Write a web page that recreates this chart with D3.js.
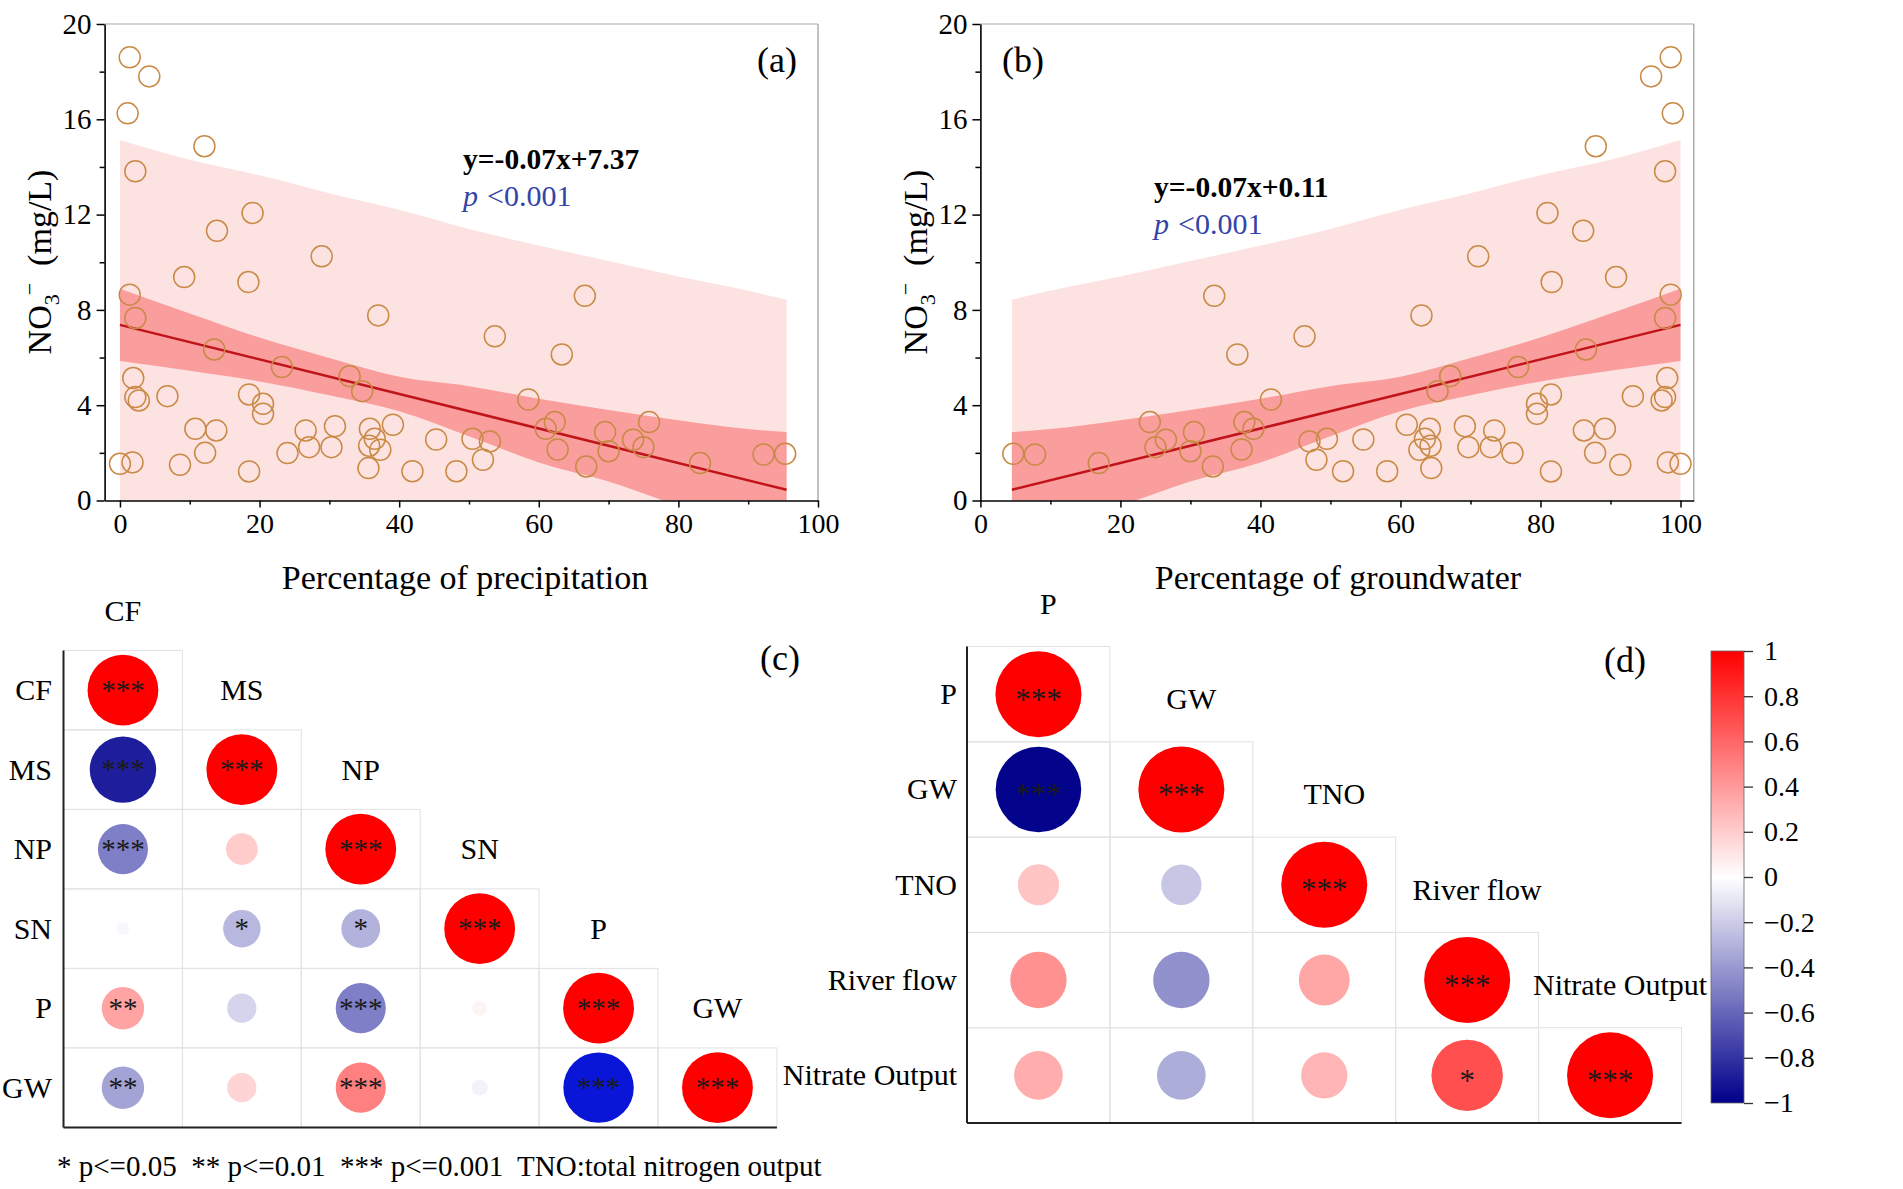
<!DOCTYPE html>
<html><head><meta charset="utf-8">
<script src="https://cdn.jsdelivr.net/npm/d3@7"></script>
<style>
body{margin:0;background:#fff}
svg{display:block}
text{font-family:"Liberation Serif","Times New Roman",serif}
</style>
</head><body>
<svg id="chart" width="1903" height="1189"></svg>
<script>
// ---------------- DATA ----------------
// Panel (a): percentage of precipitation vs NO3-
const precipPct = [1.4,4.2,1.1,12.1,2.2,19.0,13.9,28.9,9.2,18.4,1.4,37.0,2.2,13.5,23.2,32.9,34.7,1.9,2.2,2.7,6.8,18.5,20.5,20.5,10.8,13.8,12.2,0.0,1.8,8.6,18.5,24.0,26.6,27.1,30.3,30.8,35.8,36.5,35.7,37.3,35.6,39.1,41.9,45.3,48.2,66.6,53.7,63.3,58.5,61.0,62.3,62.7,69.5,70.0,66.8,73.5,75.0,75.8,83.1,92.2,95.3,50.5,53.0,52.0];
const precipNO3 = [18.6,17.8,16.25,14.87,13.82,12.07,11.32,10.25,9.38,9.17,8.64,7.77,7.66,6.34,5.6,5.22,4.59,5.14,4.34,4.2,4.38,4.45,4.06,3.64,3.01,2.94,2.0,1.54,1.6,1.5,1.22,1.99,2.94,2.24,2.24,3.12,3.01,2.59,2.3,2.13,1.36,3.18,1.23,2.56,1.23,8.59,6.89,6.13,4.24,3.01,3.29,2.14,2.87,2.07,1.43,2.55,2.24,3.29,1.57,1.93,1.96,2.59,2.48,1.71];
const fitAX = [0, 95.5];
const fitAY = [7.37, 0.45];
const bandAX     = [0, 10, 20, 30, 40, 50, 60, 70, 80, 90, 95.5];
const confAUpper = [8.89, 7.85, 6.84, 5.98, 5.19, 4.80, 4.27, 3.80, 3.37, 3.00, 2.87];
const confALower = [5.85, 5.45, 5.00, 4.42, 3.75, 2.70, 1.60, 0.80, -0.23, -1.30, -1.97];
const predAUpper = [15.13, 14.30, 13.65, 12.90, 12.20, 11.40, 10.70, 10.05, 9.40, 8.80, 8.43];
const predALower = [-0.39, -1.1, -1.8, -2.6, -3.4, -4.1, -4.9, -5.6, -6.3, -7.0, -7.5];

// Panel (b): percentage of groundwater vs NO3-
const gwPct = [98.6,95.8,98.9,87.9,97.8,81.0,86.1,71.1,90.8,81.6,98.6,63.0,97.8,86.5,76.8,67.1,65.3,98.1,97.8,97.3,93.2,81.5,79.5,79.5,89.2,86.2,87.8,100.0,98.2,91.4,81.5,76.0,73.4,72.9,69.7,69.2,64.2,63.5,64.3,62.7,64.4,60.9,58.1,54.7,51.8,33.4,46.3,36.7,41.5,39.0,37.7,37.3,30.5,30.0,33.2,26.5,25.0,24.2,16.9,7.8,4.7,49.5,47.0,48.0];
const gwNO3 = [18.6,17.8,16.25,14.87,13.82,12.07,11.32,10.25,9.38,9.17,8.64,7.77,7.66,6.34,5.6,5.22,4.59,5.14,4.34,4.2,4.38,4.45,4.06,3.64,3.01,2.94,2.0,1.54,1.6,1.5,1.22,1.99,2.94,2.24,2.24,3.12,3.01,2.59,2.3,2.13,1.36,3.18,1.23,2.56,1.23,8.59,6.89,6.13,4.24,3.01,3.29,2.14,2.87,2.07,1.43,2.55,2.24,3.29,1.57,1.93,1.96,2.59,2.48,1.71];
const fitBX = [4.5, 100];
const fitBY = [0.45, 7.37];
const bandBX     = [4.5, 10, 20, 30, 40, 50, 60, 70, 80, 90, 100];
const confBUpper = [2.87, 3.00, 3.37, 3.80, 4.27, 4.80, 5.19, 5.98, 6.84, 7.85, 8.89];
const confBLower = [-1.97, -1.30, -0.23, 0.80, 1.60, 2.70, 3.75, 4.42, 5.00, 5.45, 5.85];
const predBUpper = [8.43, 8.80, 9.40, 10.05, 10.70, 11.40, 12.20, 12.90, 13.65, 14.30, 15.13];
const predBLower = [-7.5, -7.0, -6.3, -5.6, -4.9, -4.1, -3.4, -2.6, -1.8, -1.1, -0.39];

const xTickValues = [0, 20, 40, 60, 80, 100];
const xMinorTicks = [10, 30, 50, 70, 90];
const yTickValues = [0, 4, 8, 12, 16, 20];
const yMinorTicks = [2, 6, 10, 14, 18];

// Panel (c) correlation matrix
const cLabels = ["CF", "MS", "NP", "SN", "P", "GW"];
const cValues = [
  [1],
  [-0.88, 1],
  [-0.50, 0.20, 1],
  [-0.03, -0.28, -0.30, 1],
  [0.36, -0.17, -0.50, 0.045, 1],
  [-0.36, 0.17, 0.50, -0.05, -0.99, 1]
];
const cStars = [
  ["***"],
  ["***", "***"],
  ["***", "", "***"],
  ["", "*", "*", "***"],
  ["**", "", "***", "", "***"],
  ["**", "", "***", "", "***", "***"]
];

// Panel (d) correlation matrix
const dLabels = ["P", "GW", "TNO", "River flow", "Nitrate Output"];
const dValues = [
  [1],
  [-0.99, 1],
  [0.23, -0.22, 1],
  [0.43, -0.43, 0.35, 1],
  [0.32, -0.32, 0.29, 0.69, 1]
];
const dStars = [
  ["***"],
  ["***", "***"],
  ["", "", "***"],
  ["", "", "", "***"],
  ["", "", "", "*", "***"]
];
const colorbarTicks = [-1, -0.8, -0.6, -0.4, -0.2, 0, 0.2, 0.4, 0.6, 0.8, 1];
const footnote = "* p<=0.05  ** p<=0.01  *** p<=0.001  TNO:total nitrogen output";

// ---------------- DRAWING ----------------
const FONT = '"Liberation Serif","Times New Roman",serif';
const svg = d3.select("#chart");
const defs = svg.append("defs");

function styleAxis(sel, fs) {
  sel.attr("font-family", FONT).attr("font-size", fs);
  sel.selectAll("text").attr("fill", "#000");
  sel.selectAll("line").attr("stroke", "#000").attr("stroke-width", 1.5);
  sel.selectAll(".domain").attr("stroke", "#000").attr("stroke-width", 1.6);
}

function scatterPanel(cfg) {
  const x = d3.scaleLinear().domain(cfg.xDomain).range(cfg.xRange);
  const y = d3.scaleLinear().domain([0, 20]).range([500.5, 24]);
  const g = svg.append("g");
  const clipId = "clip" + cfg.id;
  defs.append("clipPath").attr("id", clipId).append("rect")
    .attr("x", cfg.xRange[0]).attr("y", y(20))
    .attr("width", cfg.xRange[1] - cfg.xRange[0]).attr("height", y(0) - y(20));
  const pg = g.append("g").attr("clip-path", `url(#${clipId})`);
  const idx = d3.range(cfg.bandX.length);
  const area = (lo, hi) => d3.area()
    .x(i => x(cfg.bandX[i])).y0(i => y(lo[i])).y1(i => y(hi[i]))
    .curve(d3.curveMonotoneX);
  pg.append("path").datum(idx).attr("d", area(cfg.predL, cfg.predU)).attr("fill", "#FDE2E2");
  pg.append("path").datum(idx).attr("d", area(cfg.confL, cfg.confU)).attr("fill", "#F99D9D");
  pg.append("path").datum(d3.range(cfg.fitX.length))
    .attr("d", d3.line().x(i => x(cfg.fitX[i])).y(i => y(cfg.fitY[i])))
    .attr("fill", "none").attr("stroke", "#C0141A").attr("stroke-width", 2.5);

  // frame (top, right)
  g.append("line").attr("x1", x(cfg.xDomain[0])).attr("x2", x(cfg.xDomain[1]))
    .attr("y1", y(20)).attr("y2", y(20)).attr("stroke", "#aaa").attr("stroke-width", 1.2);
  g.append("line").attr("x1", x(cfg.xDomain[1])).attr("x2", x(cfg.xDomain[1]))
    .attr("y1", y(20)).attr("y2", y(0)).attr("stroke", "#999").attr("stroke-width", 1.2);

  g.selectAll("circle.pt").data(d3.range(cfg.px.length)).join("circle")
    .attr("class", "pt")
    .attr("cx", i => x(cfg.px[i])).attr("cy", i => y(cfg.py[i]))
    .attr("r", 10.5).attr("fill", "none")
    .attr("stroke", "#C98A46").attr("stroke-width", 1.5);

  // axes
  const xa = g.append("g").attr("transform", `translate(0,${y(0)})`)
    .call(d3.axisBottom(x).tickValues(xTickValues).tickSize(7).tickSizeOuter(0)
      .tickPadding(6).tickFormat(d3.format("d")));
  styleAxis(xa, 28);
  const xm = g.append("g").attr("transform", `translate(0,${y(0)})`)
    .call(d3.axisBottom(x).tickValues(xMinorTicks).tickSize(4).tickFormat(""));
  xm.select(".domain").remove(); styleAxis(xm, 28);
  const ya = g.append("g").attr("transform", `translate(${cfg.xRange[0]},0)`)
    .call(d3.axisLeft(y).tickValues(yTickValues).tickSize(8).tickSizeOuter(0)
      .tickPadding(5).tickFormat(d3.format("d")));
  styleAxis(ya, 29);
  const ym = g.append("g").attr("transform", `translate(${cfg.xRange[0]},0)`)
    .call(d3.axisLeft(y).tickValues(yMinorTicks).tickSize(5).tickFormat(""));
  ym.select(".domain").remove(); styleAxis(ym, 29);

  // titles
  g.append("text").attr("x", cfg.xTitleX).attr("y", 589).attr("text-anchor", "middle")
    .attr("font-size", 34).text(cfg.xTitle);
  const yt = g.append("text").attr("transform", `translate(${cfg.yTitleX},262) rotate(-90)`)
    .attr("text-anchor", "middle").attr("font-size", 34).attr("xml:space", "preserve");
  yt.append("tspan").text("NO");
  yt.append("tspan").attr("font-size", 22).attr("dy", 8).text("3");
  yt.append("tspan").attr("font-size", 22).attr("dy", -22).attr("dx", -1).text("\u2212");
  yt.append("tspan").attr("dy", 14).text("  (mg/L)");

  g.append("text").attr("x", cfg.labelX).attr("y", 72).attr("text-anchor", "middle")
    .attr("font-size", 36).text(cfg.label);

  g.append("text").attr("x", cfg.eqX).attr("y", cfg.eqY).attr("font-size", 29.5)
    .attr("font-weight", "bold").text(cfg.eq);
  const pt = g.append("text").attr("x", cfg.eqX).attr("y", cfg.eqY + 37)
    .attr("font-size", 30).attr("fill", "#3444A6");
  pt.append("tspan").attr("font-style", "italic").text("p");
  pt.append("tspan").attr("dx", 9).text("<0.001");
}

scatterPanel({
  id: "a", xDomain: [-2.2, 100], xRange: [104.6, 818],
  px: precipPct, py: precipNO3, fitX: fitAX, fitY: fitAY,
  bandX: bandAX, confU: confAUpper, confL: confALower, predU: predAUpper, predL: predALower,
  xTitle: "Percentage of precipitation", xTitleX: 465, yTitleX: 51,
  label: "(a)", labelX: 777, eq: "y=-0.07x+7.37", eqX: 463, eqY: 169
});
scatterPanel({
  id: "b", xDomain: [0, 101.9], xRange: [980.4, 1693.8],
  px: gwPct, py: gwNO3, fitX: fitBX, fitY: fitBY,
  bandX: bandBX, confU: confBUpper, confL: confBLower, predU: predBUpper, predL: predBLower,
  xTitle: "Percentage of groundwater", xTitleX: 1338, yTitleX: 927,
  label: "(b)", labelX: 1023, eq: "y=-0.07x+0.11", eqX: 1154, eqY: 197
});

// color scales
const colorMain = d3.scaleLinear().domain([-1, 0, 1]).range(["#00008B", "#ffffff", "#ff0000"]);
const colorC = d3.scaleLinear().domain([-1, -0.95, 0, 1]).range(["#0818E8", "#0C0C94", "#ffffff", "#ff0000"]);

function corrPanel(cfg) {
  const n = cfg.labels.length;
  const xb = d3.scaleBand().domain(cfg.labels).range([cfg.left, cfg.left + cfg.cw * n]);
  const yb = d3.scaleBand().domain(cfg.labels).range([cfg.top, cfg.top + cfg.rh * n]);
  const rs = d3.scaleSqrt().domain([0, 1]).range([0, cfg.rMax]);
  const cells = [];
  cfg.values.forEach((row, i) => row.forEach((v, j) => cells.push({ i, j, v, s: cfg.stars[i][j] })));
  const g = svg.append("g");
  g.selectAll("rect.cell").data(cells).join("rect").attr("class", "cell")
    .attr("x", d => xb(cfg.labels[d.j])).attr("y", d => yb(cfg.labels[d.i]))
    .attr("width", xb.bandwidth()).attr("height", yb.bandwidth())
    .attr("fill", "none").attr("stroke", "#e2e2e2").attr("stroke-width", 1);
  g.selectAll("circle.c").data(cells).join("circle").attr("class", "c")
    .attr("cx", d => xb(cfg.labels[d.j]) + xb.bandwidth() / 2)
    .attr("cy", d => yb(cfg.labels[d.i]) + yb.bandwidth() / 2)
    .attr("r", d => rs(Math.abs(d.v)))
    .attr("fill", d => cfg.color(d.v));
  g.selectAll("text.star").data(cells.filter(d => d.s)).join("text").attr("class", "star")
    .attr("x", d => xb(cfg.labels[d.j]) + xb.bandwidth() / 2)
    .attr("y", d => yb(cfg.labels[d.i]) + yb.bandwidth() / 2 + cfg.starDy)
    .attr("text-anchor", "middle").attr("font-size", cfg.starSize).attr("fill", "#1a1a1a")
    .text(d => d.s);
  // axes lines
  g.append("line").attr("x1", cfg.left).attr("x2", cfg.left)
    .attr("y1", cfg.top).attr("y2", cfg.top + cfg.rh * n).attr("stroke", "#222").attr("stroke-width", 2);
  g.append("line").attr("x1", cfg.left).attr("x2", cfg.left + cfg.cw * n)
    .attr("y1", cfg.top + cfg.rh * n).attr("y2", cfg.top + cfg.rh * n).attr("stroke", "#222").attr("stroke-width", 2);
  // column labels (above diagonal)
  g.selectAll("text.col").data(cfg.labels).join("text").attr("class", "col")
    .attr("x", d => xb(d) + xb.bandwidth() / 2 + cfg.colDx)
    .attr("y", d => yb(d) - yb.bandwidth() / 2 + cfg.colDy)
    .attr("text-anchor", "middle").attr("font-size", 30).text(d => d);
  // row labels
  g.selectAll("text.row").data(cfg.labels).join("text").attr("class", "row")
    .attr("x", cfg.rowX)
    .attr("y", d => yb(d) + yb.bandwidth() / 2 + 10)
    .attr("text-anchor", "end").attr("font-size", 30).text(d => d);
  g.append("text").attr("x", cfg.labelX).attr("y", cfg.labelY).attr("text-anchor", "middle")
    .attr("font-size", 36).text(cfg.label);
}

corrPanel({
  labels: cLabels, values: cValues, stars: cStars, color: colorC,
  left: 63.5, top: 650.4, cw: 118.9, rh: 79.5, rMax: 35.4,
  starDy: 9.5, starSize: 29, colDx: 0, colDy: 10, rowX: 52,
  label: "(c)", labelX: 780, labelY: 670
});
corrPanel({
  labels: dLabels, values: dValues, stars: dStars, color: colorMain,
  left: 967, top: 646.5, cw: 142.9, rh: 95.3, rMax: 43,
  starDy: 15.5, starSize: 31, colDx: 10, colDy: 15, rowX: 957,
  label: "(d)", labelX: 1625, labelY: 672
});

// colorbar
const cbX = 1711, cbW = 33, cbTop = 651, cbBot = 1103;
const cbScale = d3.scaleLinear().domain([-1, 1]).range([cbBot, cbTop]);
const grad = defs.append("linearGradient").attr("id", "cbgrad")
  .attr("x1", 0).attr("x2", 0).attr("y1", 1).attr("y2", 0);
grad.selectAll("stop").data(d3.range(-1, 1.0001, 0.1)).join("stop")
  .attr("offset", d => (d + 1) / 2).attr("stop-color", d => colorMain(d));
svg.append("rect").attr("x", cbX).attr("y", cbTop).attr("width", cbW).attr("height", cbBot - cbTop)
  .attr("fill", "url(#cbgrad)").attr("stroke", "#666").attr("stroke-width", 0.8);
const cbFmt = d => d === 0 ? "0" : (Math.abs(d) === 1 ? (d < 0 ? "\u22121" : "1") : d3.format(".1f")(d));
const cba = svg.append("g").attr("transform", `translate(${cbX + cbW},0)`)
  .call(d3.axisRight(cbScale).tickValues(colorbarTicks).tickSize(9).tickPadding(11).tickFormat(cbFmt));
cba.select(".domain").remove();
cba.attr("font-family", FONT).attr("font-size", 28);
cba.selectAll("text").attr("fill", "#000");
cba.selectAll("line").attr("stroke", "#333").attr("stroke-width", 1.3);

// footnote
svg.append("text").attr("x", 57).attr("y", 1176).attr("font-size", 29)
  .attr("xml:space", "preserve").style("white-space", "pre").text(footnote);
</script>
</body></html>
